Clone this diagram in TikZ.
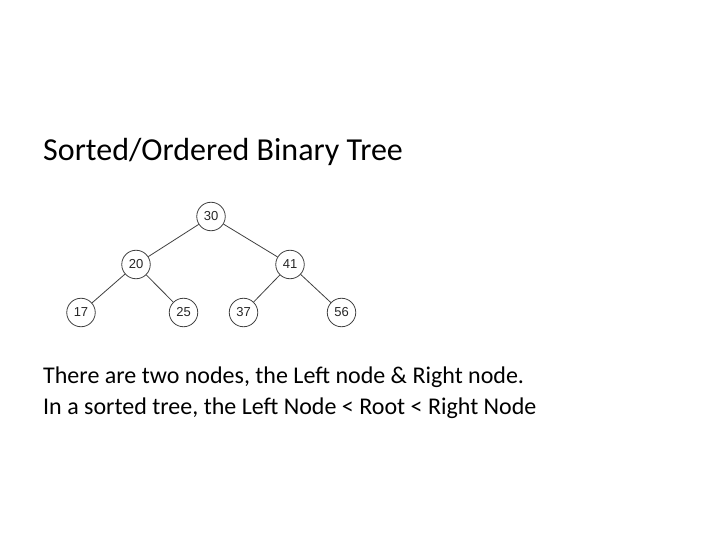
\documentclass[tikz,border=0pt]{standalone}
\usepackage{fontspec}
\setmainfont{Carlito}
\newfontfamily\numfont{Liberation Sans}
\begin{document}
\begin{tikzpicture}[x=1pt,y=-1pt,
  tn/.style={circle,draw=black!75,line width=0.8pt,minimum size=28.5pt,inner sep=0pt,font=\numfont\fontsize{13}{15}\selectfont,text=black!85},
  edge/.style={draw=black!75,line width=0.8pt},
  txt/.style={anchor=base west,inner sep=0pt}]
\useasboundingbox (0,0) rectangle (720,540);
\node[txt,font=\fontsize{32}{38}\selectfont] (title) at (43,161) {Sorted/Ordered Binary Tree};
\node[tn] (n30) at (211,216.5) {30};
\node[tn] (n20) at (136,264.5) {20};
\node[tn] (n41) at (290,264.5) {41};
\node[tn] (n17) at (81,312.5) {17};
\node[tn] (n25) at (183.5,312.5) {25};
\node[tn] (n37) at (243.5,312.5) {37};
\node[tn] (n56) at (341.5,312.5) {56};
\draw[edge] (n30) -- (n20);
\draw[edge] (n30) -- (n41);
\draw[edge] (n20) -- (n17);
\draw[edge] (n20) -- (n25);
\draw[edge] (n41) -- (n37);
\draw[edge] (n41) -- (n56);
\node[txt,font=\fontsize{24}{28}\selectfont] (l1) at (43,383) {There are two nodes, the Left node \& Right node.};
\node[txt,font=\fontsize{24}{28}\selectfont] (l2) at (43,414) {In a sorted tree, the Left Node < Root < Right Node};
\end{tikzpicture}
\end{document}
